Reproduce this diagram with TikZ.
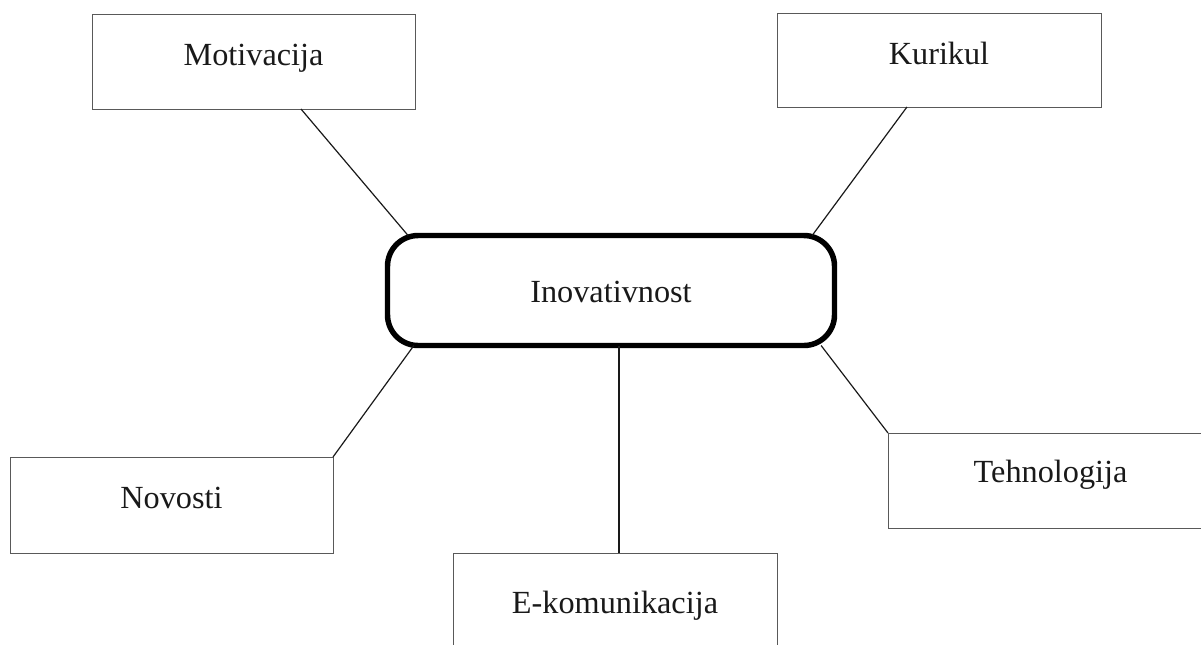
\documentclass[tikz,border=0pt]{standalone}
\usepackage{fontspec}
\setmainfont{Liberation Serif}
\usetikzlibrary{calc}
\begin{document}
\begin{tikzpicture}[x=0.75pt,y=-0.75pt,
  every node/.style={font=\fontsize{24.2}{29}\selectfont, text=black!90, inner sep=0pt, outer sep=0pt},
  topic/.style={draw=black!65, line width=0.7pt, rectangle, anchor=north west, align=center},
  hub/.style={draw=black, line width=4.1pt, rectangle, rounded corners=23pt, anchor=north west, align=center},
  link/.style={draw=black!90, line width=0.9pt}]
\useasboundingbox (0,0) rectangle (1201,644);

% central concept
\node[hub, minimum width=335.25pt, text height=49.9pt, text depth=32.6pt] (c) at (387.5,235.5) {Inovativnost};

% surrounding topics
\node[topic, minimum width=242.25pt, text height=38.25pt, text depth=33pt]   (mot) at (92,14)  {Motivacija};
\node[topic, minimum width=243pt,    text height=38.25pt, text depth=32.25pt] (kur) at (777,13) {Kurikul};
\node[topic, minimum width=242.25pt, text height=38.25pt, text depth=33.75pt] (nov) at (10,457) {Novosti};
\node[topic, minimum width=243.75pt, text height=36.75pt, text depth=34.5pt]  (teh) at (888,433) {Tehnologija};
\node[topic, minimum width=243pt,    text height=45pt,    text depth=26.25pt] (ek)  at (453,553) {E-komunikacija};

% connectors
\draw[link] ($(mot.south west)!0.647!(mot.south east)$) -- ($(c.north west)!0.046!(c.north east)$);
\draw[link] ($(kur.south west)!0.401!(kur.south east)$) -- ($(c.north west)!0.95!(c.north east)$);
\draw[link] (nov.north east) -- ($(c.south west)!0.059!(c.south east)$);
\draw[link] (teh.north west) -- ($(c.south west)!0.97!(c.south east)$);
\coordinate (eTop) at ($(c.south west)!0.518!(c.south east)$);
\draw[link] (eTop) -- (eTop |- ek.north);
\end{tikzpicture}
\end{document}
